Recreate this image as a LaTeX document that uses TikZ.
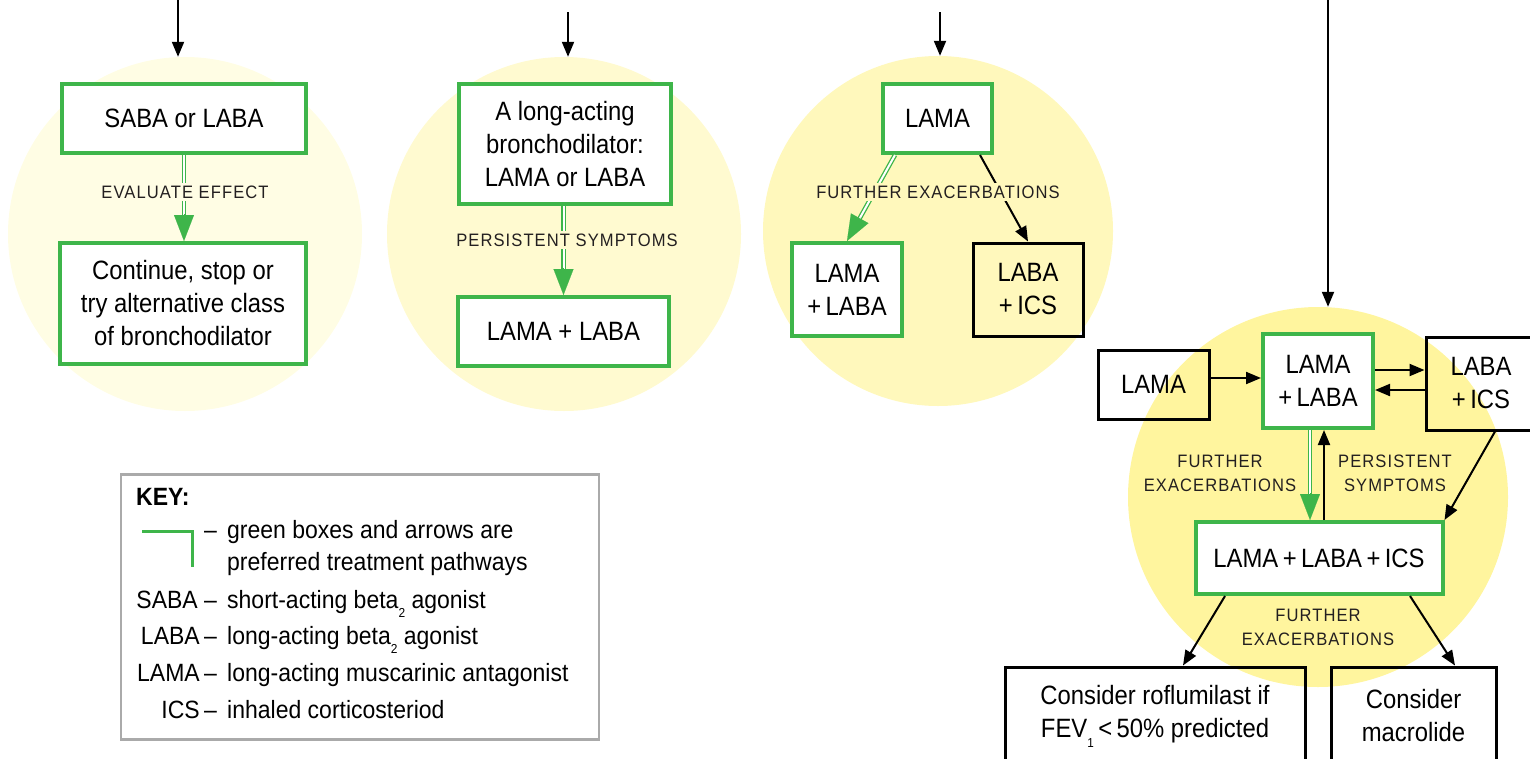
\documentclass[tikz,border=0pt]{standalone}
\usepackage{fontspec}
\setmainfont{Liberation Sans}[FakeStretch=0.9]
\newfontfamily\keyfont{Liberation Sans}[FakeStretch=0.92]
\newfontfamily\lblfont{Liberation Sans}[FakeStretch=0.92,LetterSpace=6]
\usetikzlibrary{arrows.meta,calc}
\definecolor{prefgreen}{RGB}{62,181,74}
\definecolor{circA}{RGB}{255,253,228}
\definecolor{circB}{RGB}{255,250,208}
\definecolor{circC}{RGB}{255,248,188}
\definecolor{circD}{RGB}{255,245,158}
\definecolor{labgray}{RGB}{35,31,32}
\definecolor{keygray}{RGB}{170,170,170}
\newcommand\lowsub[1]{\raisebox{-0.7ex}{\fontsize{13}{13}\selectfont #1}}
\tikzset{
  boxtext/.style={font=\fontsize{26.5}{33}\selectfont, align=center, inner sep=0pt},
  greenbox/.style={boxtext, draw=prefgreen, line width=4pt, fill=white},
  blackbox/.style={boxtext, draw=black, line width=3pt},
  arr/.style={line width=2pt, -{Triangle[length=15pt,width=12pt]}},
  dbl/.style={draw=prefgreen, line width=1.3pt, double=white, double distance=2pt, shorten >=24pt},
  gtip/.style={draw=prefgreen, fill=prefgreen, line width=0.1pt, -{Triangle[length=26pt,width=20pt]}},
  pathlabel/.style={font=\lblfont\fontsize{18}{24}\selectfont, text=labgray, align=center, inner sep=3pt},
  stage/.style={circle, inner sep=0pt, minimum size=#1},
  keytext/.style={font=\keyfont\fontsize{25}{30}\selectfont, inner sep=0pt},
}
\begin{document}
\begin{tikzpicture}[x=1pt,y=-1pt]
  \useasboundingbox (0,0) rectangle (1530,758);
  \clip (0,0) rectangle (1530,758);
  % stages
  \node[stage=354pt, fill=circA] (c1) at (185,234) {};
  \node[stage=354pt, fill=circB] (c2) at (564,234) {};
  \node[stage=350pt, fill=circC] (c3) at (938,231) {};
  \node[stage=380pt, fill=circD] (c4) at (1318,497) {};

  % first stage
  \coordinate (in1) at (178,0);
  \draw[arr] (in1) -- (in1 |- c1.north);
  \node[greenbox, minimum width=244pt, minimum height=69pt] (saba) at (184,118.5) {SABA or LABA};
  \node[greenbox, minimum width=246pt, minimum height=121pt] (cont) at (183,303.5) {Continue, stop or\\try alternative class\\of bronchodilator};
  \draw[dbl] (saba.south) -- (saba.south |- cont.north);
  \draw[gtip] ($(saba.south |- cont.north)+(0,-27)$) -- (saba.south |- cont.north);
  \node[pathlabel, fill=circA] (eval) at (185,192) {EVALUATE EFFECT};

  % second stage
  \coordinate (in2) at (568,12);
  \draw[arr] (in2) -- (in2 |- c2.north);
  \node[greenbox, minimum width=212pt, minimum height=120pt] (long) at (565,144) {A long-acting\\bronchodilator:\\LAMA or LABA};
  \node[greenbox, minimum width=211pt, minimum height=69pt] (mix2) at (563.5,331.5) {LAMA + LABA};
  \draw[dbl] (mix2.north |- long.south) -- (mix2.north);
  \draw[gtip] ($(mix2.north)+(0,-27)$) -- (mix2.north);
  \node[pathlabel, fill=circB] (pers2) at (567,240) {PERSISTENT SYMPTOMS};

  % third stage
  \coordinate (in3) at (940,12);
  \draw[arr] (in3) -- (in3 |- c3.north);
  \node[greenbox, minimum width=109pt, minimum height=69pt] (lama3) at (937.5,118.5) {LAMA};
  \node[greenbox, minimum width=110pt, minimum height=93pt] (mix3) at (847,289.5) {LAMA\\+\,LABA};
  \node[blackbox, minimum width=110pt, minimum height=93pt] (labaics3) at (1028,289.5) {LABA\\+\,ICS};
  \coordinate (g3) at ([xshift=14pt]lama3.south west);
  \coordinate (b3) at ([xshift=-14pt]lama3.south east);
  \draw[dbl] (g3) -- (mix3.north);
  \draw[gtip] ($(mix3.north)!27pt!(g3)$) -- (mix3.north);
  \draw[arr] (b3) -- (labaics3.north);
  \node[pathlabel, fill=circC] (furth3) at (938,192) {FURTHER EXACERBATIONS};

  % fourth stage
  \coordinate (in4) at (1328,0);
  \draw[arr] (in4) -- (in4 |- c4.north);
  \node[blackbox, minimum width=111pt, minimum height=69pt] (lama4) at (1153.5,384.5) {LAMA};
  \node[greenbox, minimum width=110pt, minimum height=94pt] (mix4) at (1318,381) {LAMA\\+\,LABA};
  \node[blackbox, minimum width=110pt, minimum height=93pt] (labaics4) at (1481,383.5) {LABA\\+\,ICS};
  \node[greenbox, minimum width=247pt, minimum height=72pt] (triple) at (1319,558) {LAMA\,+\,LABA\,+\,ICS};
  \node[blackbox, minimum width=300pt, minimum height=98pt] (roflu) at (1155,716) {Consider roflumilast if\\FEV\lowsub{1}\,<\,50\% predicted};
  \node[blackbox, minimum width=165pt, minimum height=98pt] (macro) at (1413.5,716) {Consider\\macrolide};
  \coordinate (l4e) at ([yshift=6.5pt]lama4.east);
  \draw[arr] (l4e) -- (l4e -| mix4.west);
  \coordinate (m4r) at ([yshift=11pt]mix4.east);
  \draw[arr] (m4r) -- (m4r -| labaics4.west);
  \coordinate (m4l) at ([yshift=-9pt]mix4.east);
  \draw[arr] (m4l -| labaics4.west) -- (m4l);
  \coordinate (m4a) at ([xshift=-8pt]mix4.south);
  \draw[dbl] (m4a) -- (m4a |- triple.north);
  \draw[gtip] ($(m4a |- triple.north)+(0,-27)$) -- (m4a |- triple.north);
  \coordinate (m4b) at ([xshift=5pt]triple.north);
  \draw[arr] (m4b) -- (m4b |- mix4.south);
  \draw[arr] ([xshift=14pt]labaics4.south) -- (triple.north east);
  \draw[arr] ([xshift=-94pt]triple.south) -- ([xshift=28pt]roflu.north);
  \draw[arr] ([xshift=91pt]triple.south) -- ([xshift=41.5pt]macro.north);
  \node[pathlabel] (furth4) at (1220,473) {FURTHER\\EXACERBATIONS};
  \node[pathlabel] (pers4) at (1395,473) {PERSISTENT\\SYMPTOMS};
  \node[pathlabel] (furth5) at (1318,627) {FURTHER\\EXACERBATIONS};

  % key
  \node[draw=keygray, line width=2.5pt, minimum width=478pt, minimum height=265pt, inner sep=0pt] (key) at (360,607) {};
  \node[keytext, anchor=base west, font=\keyfont\bfseries\fontsize{25}{30}\selectfont] (keyhead) at (136,505) {KEY:};
  \draw[prefgreen, line width=3pt] (142,531) -- (192,531) -- (192,567);
  \node[keytext, anchor=base west] (dash0) at (204,538) {–};
  \node[keytext, anchor=base west] (txt0) at (227,538) {green boxes and arrows are};
  \node[keytext, anchor=base west] (txt0b) at (227,570) {preferred treatment pathways};
  \node[keytext, anchor=base east] (ab1) at (198,608) {SABA};
  \node[keytext, anchor=base west] (dash1) at (204,608) {–};
  \node[keytext, anchor=base west] (txt1) at (227,608) {short-acting beta\lowsub{2} agonist};
  \node[keytext, anchor=base east] (ab2) at (200,644) {LABA};
  \node[keytext, anchor=base west] (dash2) at (204,644) {–};
  \node[keytext, anchor=base west] (txt2) at (227,644) {long-acting beta\lowsub{2} agonist};
  \node[keytext, anchor=base east] (ab3) at (200,681) {LAMA};
  \node[keytext, anchor=base west] (dash3) at (204,681) {–};
  \node[keytext, anchor=base west] (txt3) at (227,681) {long-acting muscarinic antagonist};
  \node[keytext, anchor=base east] (ab4) at (200,718) {ICS};
  \node[keytext, anchor=base west] (dash4) at (204,718) {–};
  \node[keytext, anchor=base west] (txt4) at (227,718) {inhaled corticosteriod};
\end{tikzpicture}
\end{document}
